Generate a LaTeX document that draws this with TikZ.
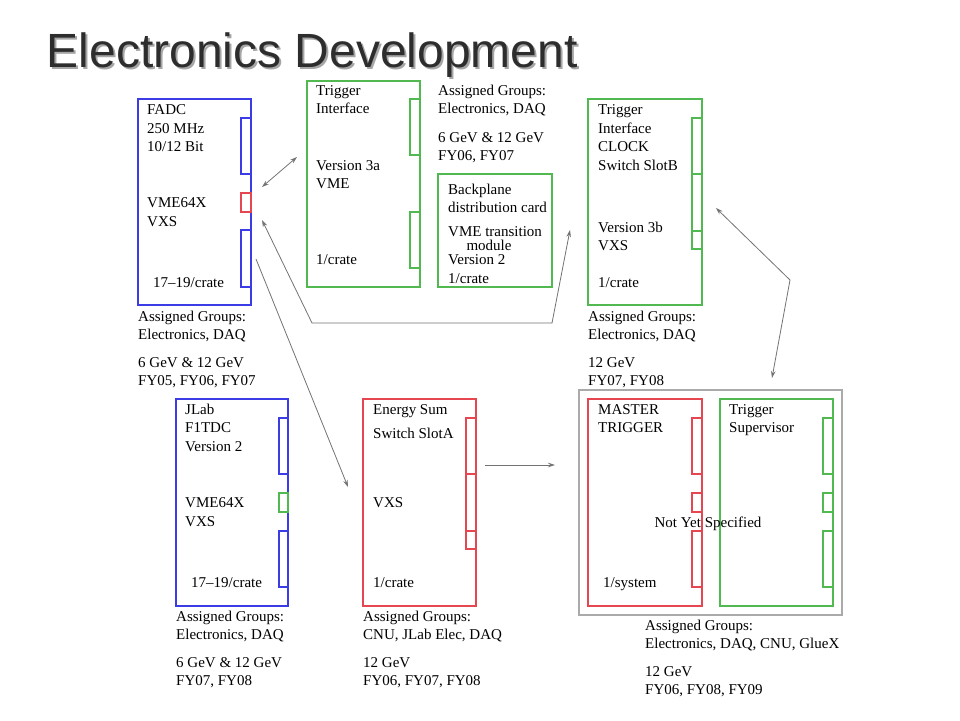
\documentclass[tikz,border=0pt]{standalone}
\usepackage{fontspec}
\setmainfont{Liberation Serif}
\newfontfamily\titlefont{Liberation Sans}
\usetikzlibrary{arrows.meta}
\definecolor{cblue}{RGB}{60,60,230}
\definecolor{cred}{RGB}{230,70,80}
\definecolor{cgreen}{RGB}{80,185,80}
\definecolor{cgrey}{RGB}{170,170,170}
\definecolor{carrow}{RGB}{115,115,115}
\definecolor{ctitle}{RGB}{45,45,45}
\tikzset{
  bx/.style={draw, line width=1.1pt, inner sep=0pt, fill=none},
  conn/.style={line width=1.1pt},
  txt/.style={anchor=base west, inner sep=0pt, font=\fontsize{15}{18}\selectfont, text=black},
  ctxt/.style={anchor=base, inner sep=0pt, font=\fontsize{15}{18}\selectfont, text=black},
  arr/.style={draw=carrow, line width=0.8pt, -{Stealth[length=7pt,width=4.5pt]}},
  darr/.style={draw=carrow, line width=0.8pt, {Stealth[length=7pt,width=4.5pt]}-{Stealth[length=7pt,width=4.5pt]}},
}
\newcommand\tl[4]{\node[txt] (#1) at (#2,#3) {#4};}
\begin{document}
\begin{tikzpicture}[x=1pt,y=-1pt]
\useasboundingbox (0,0) rectangle (960,720);
\fill[white] (0,0) rectangle (960,720);
% title
\node[anchor=base west, inner sep=0pt, font=\titlefont\fontsize{48}{56}\selectfont, text=black!35] (titleshadow) at (48.5,69) {Electronics Development};
\node[anchor=base west, inner sep=0pt, font=\titlefont\fontsize{48}{56}\selectfont, text=ctitle] (title) at (46.5,67) {Electronics Development};

% ---------- FADC ----------
\node[bx, draw=cblue, minimum width=113pt, minimum height=206pt] (fadc) at (194.5,202) {};
\draw[conn, cblue] (241,118) rectangle (251,174);
\draw[conn, cred] (241,193) rectangle (251,212);
\draw[conn, cblue] (241,230) rectangle (251,287);
\tl{f1}{147}{114}{FADC}
\tl{f2}{147}{133}{250 MHz}
\tl{f3}{147}{151.5}{10/12 Bit}
\tl{f4}{147}{207}{VME64X}
\tl{f5}{147}{226}{VXS}
\tl{f6}{153}{287}{17--19/crate}
\tl{f7}{138}{321}{Assigned Groups:}
\tl{f8}{138}{339.5}{Electronics, DAQ}
\tl{f9}{138}{367}{6 GeV \& 12 GeV}
\tl{f10}{138}{385.5}{FY05, FY06, FY07}

% ---------- Trigger Interface 3a ----------
\node[bx, draw=cgreen, minimum width=113pt, minimum height=206pt] (tia) at (363.5,184) {};
\draw[conn, cgreen] (410,99) rectangle (420,155);
\draw[conn, cgreen] (410,212) rectangle (420,268);
\tl{a1}{316}{95}{Trigger}
\tl{a2}{316}{113.5}{Interface}
\tl{a3}{316}{170}{Version 3a}
\tl{a4}{316}{188.5}{VME}
\tl{a5}{316}{264}{1/crate}
\tl{a6}{438}{95}{Assigned Groups:}
\tl{a7}{438}{113.5}{Electronics, DAQ}
\tl{a8}{438}{142}{6 GeV \& 12 GeV}
\tl{a9}{438}{160.5}{FY06, FY07}

% ---------- Backplane ----------
\node[bx, draw=cgreen, minimum width=114pt, minimum height=113pt] (bp) at (495,230.5) {};
\tl{b1}{448}{194}{Backplane}
\tl{b2}{448}{212.5}{distribution card}
\tl{b3}{448}{236}{VME transition}
\node[ctxt] (b4) at (489,250) {module};
\tl{b5}{448}{264}{Version 2}
\tl{b6}{448}{283}{1/crate}

% ---------- Trigger Interface 3b ----------
\node[bx, draw=cgreen, minimum width=114pt, minimum height=206pt] (tib) at (645,202) {};
\draw[conn, cgreen] (692,118) rectangle (702,174);
\draw[conn, cgreen] (692,174) rectangle (702,231);
\draw[conn, cgreen] (692,231) rectangle (702,249);
\tl{c1}{598}{114}{Trigger}
\tl{c2}{598}{133}{Interface}
\tl{c3}{598}{151}{CLOCK}
\tl{c4}{598}{170}{Switch SlotB}
\tl{c5}{598}{232}{Version 3b}
\tl{c6}{598}{250}{VXS}
\tl{c7}{598}{287}{1/crate}
\tl{c8}{588}{321}{Assigned Groups:}
\tl{c9}{588}{339.5}{Electronics, DAQ}
\tl{c10}{588}{367}{12 GeV}
\tl{c11}{588}{385.5}{FY07, FY08}

% ---------- JLab F1TDC ----------
\node[bx, draw=cblue, minimum width=112pt, minimum height=207pt] (jlab) at (232,502.5) {};
\draw[conn, cblue] (279,418) rectangle (288,474);
\draw[conn, cgreen] (279,493) rectangle (288,512);
\draw[conn, cblue] (279,531) rectangle (288,587);
\tl{j1}{185}{414}{JLab}
\tl{j2}{185}{432.5}{F1TDC}
\tl{j3}{185}{451}{Version 2}
\tl{j4}{185}{507}{VME64X}
\tl{j5}{185}{526}{VXS}
\tl{j6}{191}{587}{17--19/crate}
\tl{j7}{176}{621}{Assigned Groups:}
\tl{j8}{176}{639.5}{Electronics, DAQ}
\tl{j9}{176}{667}{6 GeV \& 12 GeV}
\tl{j10}{176}{685.5}{FY07, FY08}

% ---------- Energy Sum ----------
\node[bx, draw=cred, minimum width=113pt, minimum height=207pt] (esum) at (419.5,502.5) {};
\draw[conn, cred] (466,418) rectangle (476,474);
\draw[conn, cred] (466,474) rectangle (476,531);
\draw[conn, cred] (466,531) rectangle (476,549);
\tl{e1}{373}{414}{Energy Sum}
\tl{e2}{373}{438}{Switch SlotA}
\tl{e3}{373}{507}{VXS}
\tl{e4}{373}{587}{1/crate}
\tl{e5}{363}{621}{Assigned Groups:}
\tl{e6}{363}{639.5}{CNU, JLab Elec, DAQ}
\tl{e7}{363}{667}{12 GeV}
\tl{e8}{363}{685.5}{FY06, FY07, FY08}

% ---------- Master / Supervisor ----------
\node[bx, draw=cgrey, line width=1.3pt, minimum width=263pt, minimum height=225pt] (sys) at (710.5,502.5) {};
\node[bx, draw=cred, minimum width=114pt, minimum height=207pt] (mt) at (645,502.5) {};
\draw[conn, cred] (692,418) rectangle (702,474);
\draw[conn, cred] (692,493) rectangle (702,512);
\draw[conn, cred] (692,531) rectangle (702,587);
\node[bx, draw=cgreen, minimum width=113pt, minimum height=207pt] (ts) at (776.5,502.5) {};
\draw[conn, cgreen] (823,418) rectangle (833,474);
\draw[conn, cgreen] (823,493) rectangle (833,512);
\draw[conn, cgreen] (823,531) rectangle (833,587);
\tl{m1}{598}{414}{MASTER}
\tl{m2}{598}{432.5}{TRIGGER}
\tl{m3}{603}{587}{1/system}
\tl{s1}{729}{414}{Trigger}
\tl{s2}{729}{432.5}{Supervisor}
\node[ctxt] (nys) at (708,527) {Not Yet Specified};
\tl{s3}{645}{630}{Assigned Groups:}
\tl{s4}{645}{648.5}{Electronics, DAQ, CNU, GlueX}
\tl{s5}{645}{676}{12 GeV}
\tl{s6}{645}{694.5}{FY06, FY08, FY09}

% ---------- connectors ----------
\coordinate (p1a) at (262,187);
\coordinate (p1b) at (297,157);
\coordinate (p2a) at (262,220);
\coordinate (p2b) at (312,323);
\coordinate (p2c) at (552,323);
\coordinate (p2d) at (570,230);
\coordinate (p3a) at (256,259);
\coordinate (p3b) at (348,487);
\coordinate (p4a) at (485,465);
\coordinate (p4b) at (555,465);
\coordinate (p5a) at (716,208);
\coordinate (p5b) at (790,280);
\coordinate (p5c) at (772,378);
\draw[darr] (p1a) -- (p1b);
\draw[darr] (p2a) -- (p2b) -- (p2c) -- (p2d);
\draw[arr] (p3a) -- (p3b);
\draw[arr] (p4a) -- (p4b);
\draw[darr] (p5a) -- (p5b) -- (p5c);
\end{tikzpicture}
\end{document}
